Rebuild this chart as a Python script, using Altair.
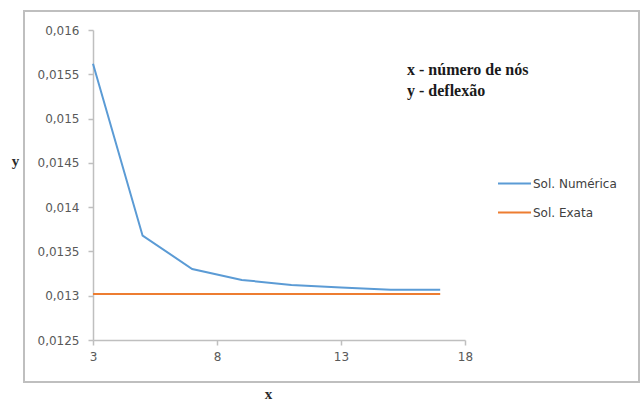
import altair as alt
import pandas as pd

nodes = [3, 5, 7, 9, 11, 13, 15, 17]
sol_numerica = [0.01562, 0.013678, 0.013302, 0.013178, 0.013122, 0.013092, 0.013068, 0.013066]
sol_exata = [0.01302] * len(nodes)
series_names = ["Sol. Numérica", "Sol. Exata"]
series_colors = ["#5b9bd5", "#ed7d31"]
y_ticks = [0.0125, 0.013, 0.0135, 0.014, 0.0145, 0.015, 0.0155, 0.016]
x_ticks = [3, 8, 13, 18]
notes = ["x - número de nós", "y - deflexão"]

rows = []
for n, v in zip(nodes, sol_numerica):
    rows.append({"x": n, "y": v, "serie": series_names[0]})
for n, v in zip(nodes, sol_exata):
    rows.append({"x": n, "y": v, "serie": series_names[1]})
df = pd.DataFrame(rows)

W, H = 372, 310

lines = alt.Chart(df).mark_line(strokeWidth=2).encode(
    x=alt.X("x:Q", scale=alt.Scale(domain=[3, 18], nice=False, zero=False),
            axis=alt.Axis(values=x_ticks, title="x", titleX=175, titleY=58,
                          titleAngle=0, titleBaseline="alphabetic",
                          titleFont="Liberation Serif", titleFontSize=15,
                          titleFontWeight="bold", titleColor="#2b2b2b",
                          labelPadding=6, tickSize=5, labelFlush=False)),
    y=alt.Y("y:Q", scale=alt.Scale(domain=[0.0125, 0.016], nice=False, zero=False),
            axis=alt.Axis(values=y_ticks, title="y", titleAngle=0,
                          titleX=-78, titleY=135, titleAlign="center",
                          titleBaseline="alphabetic",
                          titleFont="Liberation Serif", titleFontSize=15,
                          titleFontWeight="bold", titleColor="#2b2b2b",
                          labelExpr="replace(format(datum.value, '.5~f'), '.', ',')",
                          labelPadding=9, tickSize=5, labelFlush=False)),
    color=alt.Color("serie:N", sort=series_names,
                    scale=alt.Scale(domain=series_names, range=series_colors),
                    legend=alt.Legend(title=None, orient="none", legendX=404, legendY=136,
                                      symbolType="stroke", symbolSize=1089,
                                      symbolStrokeWidth=2, labelOffset=1,
                                      labelFont="DejaVu Sans", labelFontSize=12,
                                      labelColor="#404040", rowPadding=5, padding=0)),
)

note_layers = []
for i, t in enumerate(notes):
    note_layers.append(
        alt.Chart(pd.DataFrame({"t": [t]})).mark_text(
            align="left", baseline="alphabetic", font="Liberation Serif", fontSize=16,
            color="#1a1a1a", fontWeight="bold"
        ).encode(text="t:N", x=alt.value(314), y=alt.value(45 + 21 * i))
    )

border = alt.Chart(pd.DataFrame({"a": [0]})).mark_rect(
    fill=None, stroke="#bfbfbf", strokeWidth=2
).encode(
    x=alt.value(-69), x2=alt.value(546), y=alt.value(-19), y2=alt.value(352)
)

chart = alt.layer(border, lines, *note_layers).properties(
    width=W, height=H,
    autosize=alt.AutoSizeParams(type="none"),
    padding={"left": 93, "top": 30, "right": 642 - 93 - W, "bottom": 399 - 30 - H},
).configure_view(stroke=None).configure_axis(
    grid=False, domainColor="#bfbfbf", tickColor="#bfbfbf",
    labelFont="DejaVu Sans", labelFontSize=12, labelColor="#595959",
    domainWidth=1.5, tickWidth=1.5
)

chart.save("out.html", embed_options={"renderer": "svg", "actions": False})
